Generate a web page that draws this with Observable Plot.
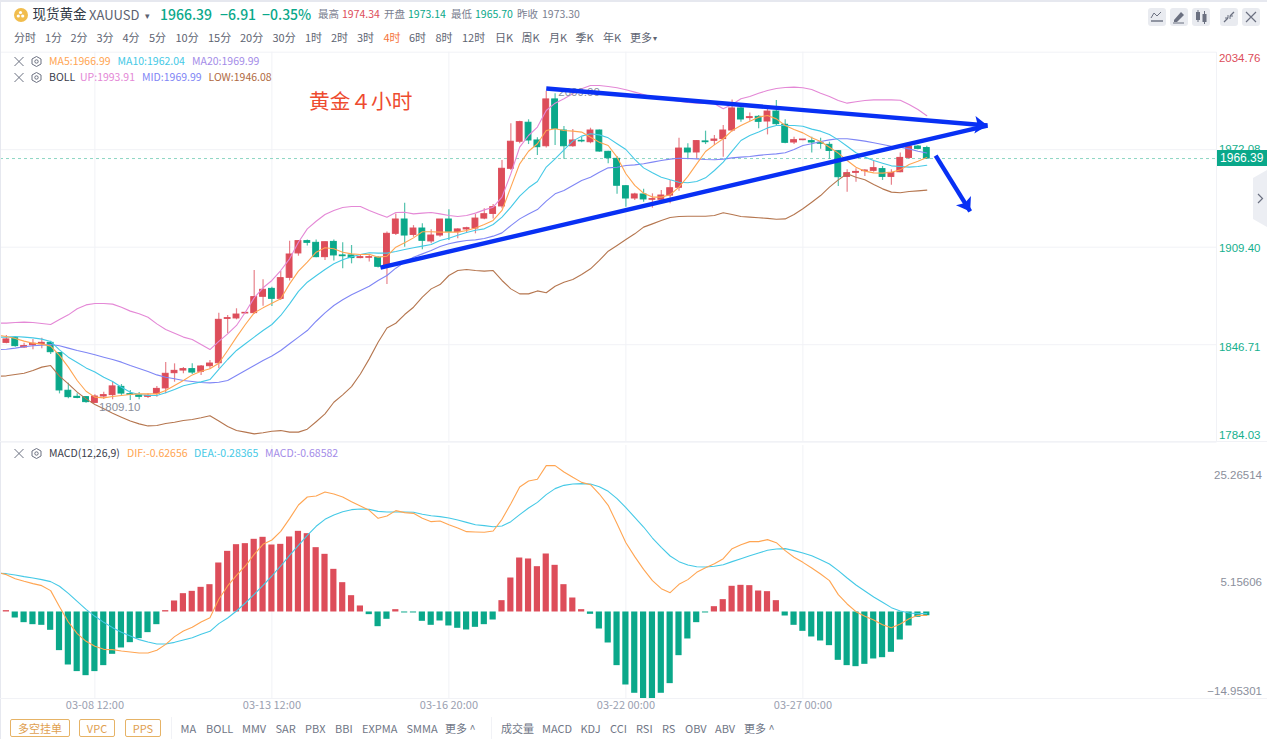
<!DOCTYPE html>
<html lang="zh">
<head>
<meta charset="utf-8">
<script src="https://cdn.jsdelivr.net/npm/d3@7"></script>
<script src="https://cdn.jsdelivr.net/npm/@observablehq/plot@0.6"></script>
<style>
html,body{margin:0;padding:0;background:#fff;overflow:hidden}
#page{position:relative;width:1267px;height:739px;overflow:hidden;font-family:"Noto Sans CJK SC","Noto Sans",sans-serif;background:#fff}
#page .t{position:absolute;white-space:nowrap;line-height:1;transform:translateY(-50%)}
#page .box{position:absolute;box-sizing:border-box}
#page figure,#page svg{margin:0}
.pane{position:absolute;left:0}
</style>
</head>
<body>
<div id="page"></div>
<script>
// ---------- candles (4-hour XAUUSD) ----------
const open=[1847.9,1850.9,1844.9,1846.4,1847.1,1847.9,1841.3,1817.1,1813.2,1813.0,1809.3,1813.4,1814.3,1819.6,1814.9,1814.1,1813.2,1815.1,1818.6,1828.4,1830.1,1831.0,1829.3,1832.9,1834.8,1863.3,1863.6,1866.8,1867.0,1877.5,1882.6,1876.2,1889.7,1905.4,1913.3,1912.2,1903.0,1912.8,1904.1,1904.1,1902.4,1902.6,1902.6,1897.6,1918.0,1927.2,1917.3,1921.4,1913.1,1916.9,1927.2,1919.1,1920.8,1921.4,1927.8,1930.8,1935.6,1959.8,1977.2,1989.4,1978.0,1974.3,2004.4,1984.4,1974.3,1977.8,1976.9,1984.4,1970.7,1966.2,1948.6,1940.7,1943.3,1939.9,1939.9,1942.6,1947.6,1972.8,1970.3,1977.4,1977.8,1978.9,1984.4,1998.6,1992.4,1993.2,1990.2,1996.6,1988.1,1976.7,1978.2,1977.6,1976.5,1975.2,1971.1,1954.6,1957.2,1958.3,1958.5,1959.6,1954.6,1957.6,1966.8,1974.1,1973.14];
const close=[1850.1,1845.8,1845.8,1847.3,1847.9,1841.9,1817.3,1813.0,1812.5,1809.8,1813.4,1814.3,1819.9,1815.3,1814.5,1813.2,1813.9,1818.3,1828.0,1829.9,1831.0,1828.8,1832.7,1834.6,1862.7,1863.8,1866.1,1867.2,1877.3,1882.0,1876.2,1889.5,1904.7,1913.3,1912.2,1903.0,1912.6,1904.1,1903.6,1902.4,1903.0,1903.0,1896.8,1918.0,1927.2,1916.9,1921.4,1913.5,1916.9,1927.2,1919.3,1920.8,1921.6,1927.8,1930.6,1935.1,1959.8,1977.2,1989.8,1978.0,1973.7,2004.4,1985.5,1974.3,1978.0,1977.4,1984.4,1970.9,1966.6,1948.9,1940.7,1943.3,1940.1,1940.3,1942.6,1947.3,1972.8,1970.3,1977.6,1976.9,1978.6,1984.4,1998.6,1991.5,1993.0,1990.0,1996.6,1988.5,1976.5,1978.2,1978.6,1976.7,1975.9,1971.3,1954.4,1957.0,1957.8,1958.7,1960.2,1954.6,1957.2,1966.8,1974.1,1972.6,1966.39];
const high=[1852.6,1852.0,1847.7,1850.1,1850.9,1849.0,1841.7,1822.0,1815.1,1813.4,1814.5,1816.2,1822.6,1821.1,1817.3,1816.0,1815.1,1819.8,1835.3,1834.4,1832.1,1834.4,1833.3,1836.6,1867.0,1865.5,1869.8,1867.2,1894.4,1888.4,1883.7,1893.8,1913.3,1913.7,1914.1,1914.1,1912.8,1914.1,1912.2,1910.5,1904.1,1904.1,1903.4,1919.1,1930.8,1937.7,1923.3,1924.4,1920.6,1927.2,1933.4,1921.2,1922.3,1930.4,1934.1,1936.9,1965.1,1988.7,1990.4,1991.3,1979.7,2009.7,2008.0,1987.0,1985.1,1980.1,1985.9,1984.8,1971.1,1967.7,1949.1,1944.1,1946.7,1943.7,1945.8,1952.3,1979.5,1975.9,1978.0,1984.0,1981.2,1987.6,2004.1,1999.4,1995.6,1994.1,1998.8,2003.7,1991.3,1980.1,1978.6,1980.1,1979.5,1976.9,1971.6,1959.2,1959.8,1959.2,1964.5,1961.3,1959.2,1969.9,1974.3,1974.8,1974.34];
const low=[1847.3,1845.1,1844.5,1843.4,1844.1,1840.4,1815.1,1811.9,1811.9,1809.1,1809.1,1811.5,1811.3,1814.1,1810.8,1811.3,1812.1,1813.0,1815.1,1822.6,1828.0,1827.6,1826.9,1831.0,1831.2,1853.7,1862.7,1866.6,1866.1,1871.5,1871.3,1875.1,1887.6,1903.6,1910.1,1902.6,1900.8,1900.6,1895.5,1898.7,1901.9,1899.8,1896.0,1885.4,1916.9,1909.4,1915.8,1907.7,1911.6,1915.8,1913.7,1914.8,1918.4,1918.0,1927.0,1927.6,1934.1,1958.7,1975.9,1975.4,1968.4,1973.1,1974.8,1966.0,1973.7,1976.5,1975.9,1970.5,1963.0,1943.5,1935.1,1939.4,1938.3,1934.5,1939.0,1937.3,1945.4,1965.6,1966.4,1975.4,1974.8,1967.3,1983.4,1989.8,1990.4,1985.5,1981.6,1987.6,1975.9,1975.4,1977.8,1969.9,1972.4,1966.0,1948.4,1944.8,1951.2,1954.9,1957.6,1952.3,1949.3,1957.2,1965.8,1972.0,1965.70];
// ---------- overlays (first value belongs to the candle just left of the visible window) ----------
const ma5=[1852.9,1852.0,1850.7,1849.0,1847.7,1847.1,1845.8,1839.8,1832.3,1823.7,1816.8,1813.0,1812.5,1813.4,1814.1,1814.7,1815.1,1815.1,1815.1,1817.3,1820.5,1823.7,1827.3,1829.7,1831.2,1834.8,1843.0,1851.6,1859.7,1867.2,1870.4,1873.4,1876.2,1885.8,1894.0,1899.8,1906.2,1909.0,1908.4,1906.2,1905.1,1904.7,1904.9,1903.0,1903.6,1909.4,1912.2,1915.4,1919.3,1919.3,1919.1,1919.1,1919.1,1920.1,1921.8,1924.0,1926.6,1933.0,1948.0,1963.0,1971.1,1975.9,1984.4,1985.5,1984.4,1984.0,1983.4,1980.1,1976.9,1974.8,1967.3,1956.6,1949.1,1944.1,1941.6,1941.6,1943.1,1948.0,1954.9,1963.0,1970.9,1975.2,1979.1,1984.4,1987.6,1990.4,1993.0,1994.1,1991.9,1987.6,1985.1,1982.9,1979.7,1977.4,1973.7,1969.9,1965.1,1960.8,1958.3,1957.2,1957.0,1957.6,1959.1,1962.6,1964.7,1966.99];
const ma10=[1851.6,1851.6,1852.0,1851.6,1851.1,1850.3,1848.8,1843.4,1838.7,1835.3,1831.8,1829.1,1825.8,1823.1,1819.4,1816.2,1814.7,1814.1,1814.1,1815.8,1817.9,1820.3,1821.6,1822.8,1824.3,1830.8,1837.2,1843.0,1847.3,1851.6,1855.8,1859.7,1865.5,1873.0,1881.0,1886.9,1891.0,1895.1,1898.7,1901.3,1903.2,1904.7,1905.8,1905.6,1905.6,1906.6,1907.9,1909.0,1910.1,1911.1,1913.7,1915.2,1917.1,1918.8,1920.3,1921.2,1924.0,1928.7,1935.1,1942.2,1947.6,1951.6,1960.9,1966.2,1972.0,1977.6,1980.8,1982.3,1981.6,1979.7,1975.9,1972.2,1965.8,1960.4,1957.2,1954.4,1952.7,1951.2,1950.8,1951.6,1954.0,1958.7,1964.1,1971.1,1978.0,1981.2,1983.4,1986.1,1987.6,1987.6,1987.6,1987.2,1985.3,1984.0,1981.9,1978.4,1974.3,1970.1,1967.3,1965.1,1963.4,1961.7,1961.3,1960.9,1961.3,1962.04];
const bollMid=[1843.5,1843.8,1844.5,1845.4,1846.0,1846.4,1846.8,1846.0,1844.5,1843.0,1841.7,1840.2,1838.7,1837.2,1835.5,1833.3,1831.4,1829.5,1827.3,1825.8,1824.8,1823.7,1823.1,1822.4,1822.2,1822.6,1823.7,1826.9,1830.1,1833.3,1836.6,1839.4,1843.0,1847.3,1851.6,1855.8,1861.8,1867.2,1871.9,1875.6,1878.8,1881.6,1884.3,1888.0,1891.2,1895.9,1899.8,1903.0,1905.1,1907.3,1909.8,1911.6,1912.8,1913.7,1914.1,1915.0,1916.5,1918.6,1923.3,1927.6,1930.8,1933.6,1939.0,1943.7,1945.8,1949.1,1952.3,1954.4,1957.6,1960.4,1960.8,1961.9,1962.3,1963.0,1964.1,1965.1,1966.0,1966.6,1966.4,1966.2,1965.8,1965.6,1966.0,1966.8,1967.3,1967.7,1968.4,1969.0,1969.4,1970.1,1972.2,1974.8,1975.9,1977.4,1978.4,1979.1,1979.1,1978.4,1977.6,1976.5,1975.4,1974.3,1973.7,1972.6,1971.1,1969.99];
const bollUp=[1860.6,1860.6,1861.0,1861.2,1861.0,1860.3,1859.7,1862.9,1865.9,1869.8,1872.3,1873.2,1873.2,1872.8,1870.8,1868.3,1866.6,1864.4,1860.1,1856.5,1854.1,1851.6,1850.1,1846.8,1843.6,1848.8,1853.7,1859.1,1867.6,1876.8,1883.3,1888.0,1894.4,1901.9,1912.6,1921.2,1926.1,1930.4,1933.0,1934.9,1935.6,1935.6,1933.0,1930.8,1928.7,1931.7,1931.9,1930.8,1931.3,1931.7,1930.8,1929.8,1929.1,1929.8,1931.3,1933.4,1935.1,1941.6,1956.6,1973.7,1981.2,1986.6,1997.3,2002.0,2004.8,2008.0,2011.2,2013.4,2013.4,2012.7,2011.9,2010.6,2009.1,2007.6,2005.9,2004.8,2004.1,2003.3,2002.4,2002.0,2001.8,2001.6,1998.4,2001.1,2004.8,2006.3,2008.4,2010.1,2011.4,2012.1,2012.3,2011.9,2010.8,2008.4,2006.3,2003.7,2002.0,2002.9,2003.7,2004.1,2004.1,2004.1,2003.9,2001.1,1997.9,1993.91];
const bollLow=[1826.4,1826.7,1827.6,1828.4,1830.1,1832.3,1833.3,1826.5,1821.5,1816.2,1811.9,1808.3,1805.5,1802.7,1800.1,1797.6,1795.8,1794.5,1794.8,1796.1,1796.9,1798.0,1798.6,1799.7,1801.0,1797.6,1794.1,1791.5,1790.5,1789.4,1790.1,1791.1,1791.5,1790.5,1790.5,1792.4,1797.2,1802.2,1809.7,1814.5,1819.8,1827.9,1837.6,1848.3,1857.5,1860.5,1866.1,1870.8,1877.3,1882.6,1885.4,1891.2,1894.4,1895.1,1894.4,1894.0,1894.4,1888.0,1882.6,1879.4,1879.4,1881.3,1880.1,1884.3,1886.9,1888.6,1891.8,1895.5,1900.9,1906.8,1910.5,1914.3,1918.0,1922.3,1924.4,1926.6,1928.5,1929.1,1929.3,1929.3,1929.3,1929.8,1931.5,1930.4,1929.1,1928.7,1928.3,1927.9,1927.4,1927.6,1930.4,1934.1,1938.3,1942.6,1948.0,1952.7,1956.6,1954.4,1952.7,1949.7,1946.9,1944.8,1944.4,1945.2,1945.6,1946.08];
// ---------- MACD ----------
const macdHist=[0.25,-1.11,-1.97,-2.34,-2.46,-3.38,-7.13,-9.78,-11.0,-11.75,-11.0,-9.9,-7.81,-6.64,-5.66,-4.92,-3.81,-2.34,0.25,2.03,3.38,3.81,4.55,5.04,9.04,11.19,12.42,12.61,13.41,13.78,12.36,12.48,13.84,14.88,14.45,11.87,10.64,7.87,5.41,3.01,1.11,-0.49,-2.71,-1.35,0.43,-0.18,-0.18,-1.72,-2.46,-1.66,-2.58,-3.01,-3.32,-2.83,-2.34,-1.48,2.09,6.27,9.96,9.78,8.36,10.7,8.61,5.04,2.58,0.43,-0.43,-3.14,-5.72,-9.9,-13.47,-15.0,-15.99,-15.99,-15.0,-13.22,-8.06,-4.98,-1.97,-0.18,0.98,2.28,4.74,4.92,4.86,3.87,3.75,2.09,-0.74,-2.46,-3.57,-4.61,-5.35,-6.21,-8.92,-9.9,-10.09,-9.66,-8.67,-8.43,-7.44,-5.17,-2.58,-0.98,-0.69];
const dif=[7.3,6.89,6.15,5.66,5.23,4.86,3.94,0.98,-1.85,-4.0,-5.41,-6.33,-6.89,-6.95,-7.2,-7.38,-7.56,-7.56,-7.07,-5.97,-4.55,-3.51,-2.83,-1.85,-1.05,2.34,4.8,6.77,8.49,10.64,12.48,13.28,14.88,17.22,19.74,21.22,21.4,22.14,21.77,21.22,20.36,19.56,18.76,17.28,17.71,18.7,18.33,18.2,17.28,16.67,16.79,16.11,15.5,14.82,14.76,14.7,14.94,17.1,19.99,23.06,24.17,24.48,27.0,27.0,25.83,24.85,23.92,23.49,21.77,19.68,16.3,12.79,10.21,7.87,5.78,4.31,3.57,5.1,5.97,7.32,8.18,8.92,9.84,11.69,12.42,12.98,12.98,13.35,12.79,11.32,10.09,9.16,8.12,7.01,5.78,3.2,1.48,0.06,-0.8,-1.48,-2.34,-2.89,-2.21,-1.23,-0.62,-0.63];
const dea=[7.15,7.07,6.83,6.52,6.27,5.97,5.6,4.74,3.44,1.97,0.49,-0.8,-1.91,-2.89,-3.75,-4.43,-5.1,-5.54,-5.9,-5.9,-5.6,-5.17,-4.74,-4.12,-3.57,-2.15,-1.11,0.18,1.66,3.26,4.92,6.64,8.49,10.46,12.3,14.14,15.81,17.1,17.9,18.51,18.88,19.0,18.94,18.57,18.45,18.45,18.45,18.39,18.02,17.77,17.59,17.34,16.97,16.54,16.11,15.93,15.74,15.87,16.67,17.96,19.19,20.23,21.65,22.76,23.37,23.62,23.68,23.62,23.12,22.26,20.91,19.25,17.47,15.68,13.65,11.93,10.33,9.29,8.67,8.36,8.3,8.43,8.73,9.29,9.84,10.39,10.89,11.38,11.62,11.69,11.32,10.89,10.39,9.66,8.86,7.63,6.27,4.98,3.87,2.77,1.78,0.8,0.18,-0.18,-0.31,-0.28];
// ---------- axes ----------
const priceTicks=[2034.76,1972.08,1909.40,1846.71,1784.03];
const priceTickColors=["#dd4d5a","#16b08e","#16b08e","#16b08e","#16b08e"];
const macdTicks=[25.26514,5.15606,-14.95301];
const timeTickIndex=[10,30,50,70,90];
const timeTickLabels=["03-08 12:00","03-13 12:00","03-16 20:00","03-22 00:00","03-27 00:00"];
const lastPrice=1966.39;
// ---------- hand-drawn annotation (candle position, price) ----------
const trendTop=[[61,2011.4],[110.86,1987.6]];
const trendBottom=[[42.27,1896.3],[110.86,1987.6]];
const trendDown=[[105,1968.3],[108.9,1932.4]];
const arrowTips=[{x:110.86,y:1987.6,angle:94},{x:108.9,y:1932.4,angle:148}];

// ---------- colours ----------
const RED="#dd4d5a",GREEN="#0aa88a",BLUE="#0830f4",GRID="#f1f2f6";
const C_MA5="#ffa552",C_MA10="#45c9e6",C_MA20="#a48ce8",C_UP="#e488d6",C_MID="#7f86f5",C_LOW="#b5764f";
const SANS='"Liberation Sans",Arial,sans-serif';

const candles=open.map((o,i)=>({i,o,c:close[i],h:high[i],l:low[i],col:close[i]>=o?RED:GREEN}));
const bars=macdHist.map((v,i)=>({i,v,col:v>=0?RED:GREEN}));

const xScale={domain:[0,100],range:[5.9,890.9],axis:null};
const stealth={draw(ctx,size){const r=Math.sqrt(size/Math.PI);ctx.moveTo(0,0);ctx.lineTo(-r*0.8,r*1.15);ctx.lineTo(0,r*0.9);ctx.lineTo(r*0.8,r*1.15);ctx.closePath();}};
const page=document.getElementById("page");

// ---------- main pane ----------
const mainTop=44;
const line=(arr,stroke,w=1.1)=>Plot.line(arr,{x:(d,i)=>i-1,y:d=>d,stroke,strokeWidth:w});
const trend=(arr)=>Plot.line(arr,{x:d=>d[0],y:d=>d[1],stroke:BLUE,strokeWidth:4.4,strokeLinecap:"butt"});
const priceDy=[6.5,0,1,3,-6.5];
const main=Plot.plot({
  width:1267,height:400,marginTop:0,marginBottom:0,marginLeft:0,marginRight:50.5,
  style:{background:"transparent",overflow:"visible",fontFamily:SANS},
  x:xScale,
  y:{domain:[1784.03,2034.76],range:[441.7-mainTop,51.7-mainTop],axis:null},
  marks:[
    Plot.ruleY(priceTicks,{stroke:GRID,strokeWidth:1}),
    Plot.ruleX(timeTickIndex,{stroke:GRID,strokeWidth:1,y1:1784.03,y2:2034.76}),
    Plot.ruleY([lastPrice],{stroke:"#8ed6c4",strokeDasharray:"3,3",strokeWidth:1}),
    Plot.ruleX(candles,{x:"i",y1:"l",y2:"h",stroke:"col",strokeWidth:1.2,strokeOpacity:0.7}),
    Plot.rect(candles,{x1:d=>d.i-0.33,x2:d=>d.i+0.33,y1:"o",y2:"c",fill:"col",stroke:"col",strokeWidth:1}),
    line(bollUp,C_UP),line(bollLow,C_LOW),line(bollMid,C_MID),line(ma10,C_MA10),line(ma5,C_MA5),
    Plot.text([{x:10,y:1809.10,label:"1809.10"}],{x:"x",y:"y",text:"label",dx:4,dy:4,textAnchor:"start",fill:"#8b8f9c",fontSize:11.5}),
    Plot.text([{x:61,y:2009.00,label:"2009.00"}],{x:"x",y:"y",text:"label",dx:12,dy:0,textAnchor:"start",fill:"#8b8f9c",fontSize:11.5}),
    trend(trendTop),trend(trendBottom),trend(trendDown),
    Plot.dot(arrowTips,{x:"x",y:"y",r:11,rotate:"angle",symbol:stealth,fill:BLUE,stroke:"none"}),
    ...priceTicks.map((p,i)=>Plot.text([p],{y:d=>d,text:d=>d.toFixed(2),frameAnchor:"right",textAnchor:"end",dx:43.5,dy:priceDy[i],fill:priceTickColors[i],fontSize:11.5}))
  ]
});
main.classList.add("pane");main.style.top=mainTop+"px";page.appendChild(main);

// ---------- MACD pane ----------
const macdTop=445;
const macdDy=[0,-1.5,-2];
const sub=Plot.plot({
  width:1267,height:272,marginTop:0,marginBottom:0,marginLeft:0,marginRight:0,
  style:{background:"transparent",overflow:"visible",fontFamily:'"Noto Sans CJK SC",sans-serif'},
  x:xScale,
  y:{domain:[-16,30.72],range:[253.2,0],axis:null},
  marks:[
    Plot.ruleX(timeTickIndex,{stroke:GRID,y1:-16,y2:30.72}),
    Plot.rect(bars,{x1:d=>d.i-0.35,x2:d=>d.i+0.35,y1:()=>0,y2:"v",fill:"col"}),
    line(dea,C_MA10),line(dif,C_MA5),
    ...macdTicks.map((m,i)=>Plot.text([m],{y:d=>d,text:d=>d<0?"\u2212"+Math.abs(d).toFixed(5):d.toFixed(5),frameAnchor:"right",textAnchor:"end",dx:-5.5,dy:macdDy[i],fill:"#8b8f9c",fontSize:11.5,fontFamily:SANS})),
    Plot.text(timeTickIndex,{x:d=>d,text:(d,i)=>timeTickLabels[i],frameAnchor:"bottom",dy:-9,fill:"#9aa0b0",fontSize:11})
  ]
});
sub.classList.add("pane");sub.style.top=macdTop+"px";page.appendChild(sub);

// ---------- page text and chrome ----------
function t(str,x,y,size,color,extra){
  const e=document.createElement("div");e.className="t";e.textContent=str;
  e.style.cssText=`left:${x}px;top:${y}px;font-size:${size}px;color:${color};${extra||""}`;
  page.appendChild(e);return e;
}
function box(x,y,w,h,css){
  const e=document.createElement("div");e.className="box";
  e.style.cssText=`left:${x}px;top:${y}px;width:${w}px;height:${h}px;${css||""}`;
  page.appendChild(e);return e;
}
function svgAt(x,y,w,h,inner){
  const e=box(x,y,w,h);e.innerHTML=`<svg width="${w}" height="${h}" viewBox="0 0 ${w} ${h}" style="display:block">${inner}</svg>`;return e;
}
// frame bands
box(0,0,1267,2,"background:#e6e8ef");
box(0,0,1,739,"background:#e6e8ef");
box(0,441,1267,1,"background:"+GRID);
box(0,698,1267,1,"background:"+GRID);
box(1216,52,1,389,"background:"+GRID);

// header row
box(13.5,7.5,14,14,"border-radius:50%;background:#f1bd4d");
svgAt(16,10,9,9,'<circle cx="4.5" cy="2.5" r="1.6" fill="#fff"/><circle cx="2.3" cy="6" r="1.6" fill="#fff"/><circle cx="6.7" cy="6" r="1.6" fill="#fff"/>');
t("现货黄金",32.5,14,13.5,"#333a46");
t("XAUUSD",89,14,13,"#5c6270");
t("▾",145,15,9,"#5c6270");
t("1966.39",160,14,14,GREEN,"font-weight:500");
t("\u22126.91",220,14,14,GREEN,"font-weight:500");
t("\u22120.35%",262,14,14,GREEN,"font-weight:500");
[["最高",318,"#7a8090"],["1974.34",342,RED],["开盘",384,"#7a8090"],["1973.14",408,GREEN],
 ["最低",451,"#7a8090"],["1965.70",475,GREEN],["昨收",517,"#7a8090"],["1973.30",542,"#7a8090"]]
 .forEach(d=>t(d[0],d[1],14,10.5,d[2]));

// interval tabs
const tabs=["分时","1分","2分","3分","4分","5分","10分","15分","20分","30分","1时","2时","3时","4时","6时","8时","12时","日K","周K","月K","季K","年K","更多"];
const tabX=[14,45,70.5,96.5,122.5,149,175.5,208,240,272.5,305,331,357,383.5,409,435.5,462,495,521.5,549,575.5,603,630];
tabs.forEach((s,i)=>t(s,tabX[i],36.5,11,s==="4时"?"#f5733a":"#5e6472"));
t("▾",653,37.5,8,"#5e6472");

// indicator legends
function xhex(y){
  svgAt(14,y-5.5,28,11,'<path d="M0.5,1L9.5,10M9.5,1L0.5,10" stroke="#6b7080" stroke-width="1" fill="none"/>'+
   '<path d="M22.5,0.5L27,3V8L22.5,10.5L18,8V3Z" stroke="#6b7080" fill="none"/><circle cx="22.5" cy="5.5" r="1.7" stroke="#6b7080" fill="none"/>');
}
xhex(61);xhex(77);xhex(453);
t("MA5:1966.99",49,61,10.5,C_MA5);t("MA10:1962.04",117.5,61,10.5,C_MA10);t("MA20:1969.99",192,61,10.5,C_MA20);
t("BOLL",49,77,10.5,"#3b404c");t("UP:1993.91",80,77,10.5,C_UP);t("MID:1969.99",142,77,10.5,C_MID);t("LOW:1946.08",208.5,77,10.5,"#b06a42");
t("MACD(12,26,9)",49,453,10.5,"#3b404c");t("DIF:-0.62656",127,453,10.5,C_MA5);t("DEA:-0.28365",194,453,10.5,C_MA10);t("MACD:-0.68582",265,453,10.5,C_MA20);

// handwritten title
t("黄金４小时",309,100,20.7,"#ee4b2f");

// last price tag
const tag=box(1216.5,149.7,50.5,16,"background:#0aa88a;color:#fff;text-align:center;line-height:16px;font-size:12px;font-family:"+SANS);
tag.textContent=lastPrice.toFixed(2);

// side handle
svgAt(1252,170,15,57,'<path d="M15,0L1,8V49L15,57Z" fill="#eceef3"/><path d="M6,24L10.5,28.5L6,33" stroke="#6b7080" stroke-width="1.2" fill="none"/>');

// top-right buttons
const btns=[[1148,'<path d="M3,10L6,5L9,8L13,4" stroke="#6b7080" fill="none"/><path d="M3,13H15" stroke="#6b7080" stroke-width="1.4"/>'],
 [1170,'<path d="M4,12L11,4L14,7L7,14H4Z" fill="#6b7080"/><path d="M3,15H14" stroke="#6b7080"/>'],
 [1192,'<rect x="4" y="4" width="4" height="8" fill="#6b7080"/><rect x="10.5" y="6" width="4" height="8" fill="#6b7080"/><path d="M6,2V14M12.5,3V16" stroke="#6b7080"/>'],
 [1220,'<path d="M4,14L8,10M14,4L10,8" stroke="#6b7080" stroke-width="1.3"/><path d="M8,7V10H5M10,11V8H13" stroke="#6b7080" fill="none"/>'],
 [1242,'<path d="M4,4L14,14M14,4L4,14" stroke="#6b7080" stroke-width="1.2"/>']];
btns.forEach(b=>svgAt(b[0],8,18,18,'<rect width="18" height="18" rx="3" fill="#e9ebf0"/>'+b[1]));

// bottom toolbar
[["多空挂单",10,60],["VPC",79,36],["PPS",125,36]].forEach(b=>{
  const e=box(b[1],718.5,b[2],18,"border:1px solid #e6b366;border-radius:2px;color:#e0a050;font-size:11px;text-align:center;line-height:16px");
  e.textContent=b[0];
});
box(171,717,1,22,"background:"+GRID);
box(491,717,1,22,"background:"+GRID);
const tools=["MA","BOLL","MMV","SAR","PBX","BBI","EXPMA","SMMA","更多 ^","成交量","MACD","KDJ","CCI","RSI","RS","OBV","ABV","更多 ^"];
const toolX=[180.5,206,242,275.5,305,335,362,406.5,445,501,542,580.5,610,636,662,685,715,744];
tools.forEach((s,i)=>t(s,toolX[i],728,11,"#6f7686"));
</script>
</body>
</html>
